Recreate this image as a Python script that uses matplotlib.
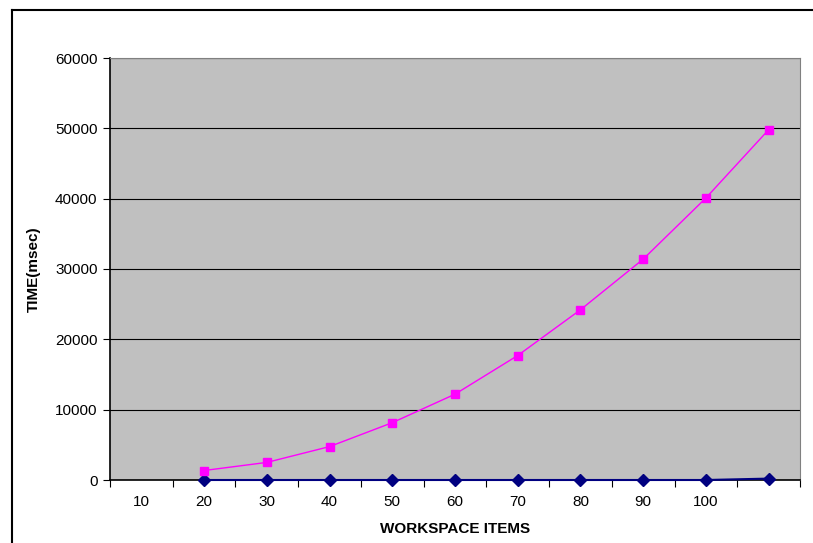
import matplotlib.pyplot as plt
import matplotlib.lines as mlines
import numpy as np

plt.rcParams['font.family'] = ['Liberation Sans', 'DejaVu Sans']

categories = ['10', '20', '30', '40', '50', '60', '70', '80', '90', '100', '']
# series start at the second category
series_a = [1350, 2500, 4750, 8150, 12200, 17700, 24200, 31400, 40100, 49800]
series_b = [0, 0, 0, 0, 0, 0, 0, 0, 0, 200]

fig = plt.figure(figsize=(8.13, 5.43), dpi=100)
ax = fig.add_axes([110/813, 1 - 480/543, 690/813, 422/543])

x = np.arange(1, len(categories))
ax.plot(x, series_b, color='#000080', marker='D', markersize=6, linewidth=1.5, zorder=3, clip_on=False)
ax.plot(x, series_a, color='#FF00FF', marker='s', markersize=6, linewidth=1, zorder=4, clip_on=False)

ax.set_facecolor('#C0C0C0')
ax.set_xlim(-0.5, len(categories) - 0.5)
ax.set_ylim(0, 60000)
ax.set_yticks(np.arange(0, 60001, 10000))
ax.yaxis.grid(True, color='black', linewidth=0.8)
ax.set_axisbelow(True)

ax.set_xticks(np.arange(-0.5, len(categories), 1))
ax.set_xticklabels([])
ax.set_xticks(np.arange(len(categories)), minor=True)
ax.set_xticklabels(categories, minor=True)
ax.tick_params(axis='x', which='minor', length=0, pad=11, labelsize=11)
ax.tick_params(axis='x', which='major', length=5, direction='out', color='black')
ax.tick_params(axis='y', length=5, direction='out', labelsize=11, pad=4)

for s in ['top', 'right']:
    ax.spines[s].set_color('#808080')
for s in ['left', 'bottom']:
    ax.spines[s].set_color('black')
    ax.spines[s].set_linewidth(1.2)

ax.set_xlabel('WORKSPACE ITEMS', fontweight='bold', fontsize=11, labelpad=9)
ax.set_ylabel('TIME(msec)', fontweight='bold', fontsize=11, labelpad=10)

# outer chart frame
fx = 12/813
fy = 1 - 10/543
fig.add_artist(mlines.Line2D([fx, fx], [0, fy], color='black', linewidth=1.5, transform=fig.transFigure))
fig.add_artist(mlines.Line2D([fx, 1], [fy, fy], color='black', linewidth=1.5, transform=fig.transFigure))

fig.savefig('out.png', dpi=100)
